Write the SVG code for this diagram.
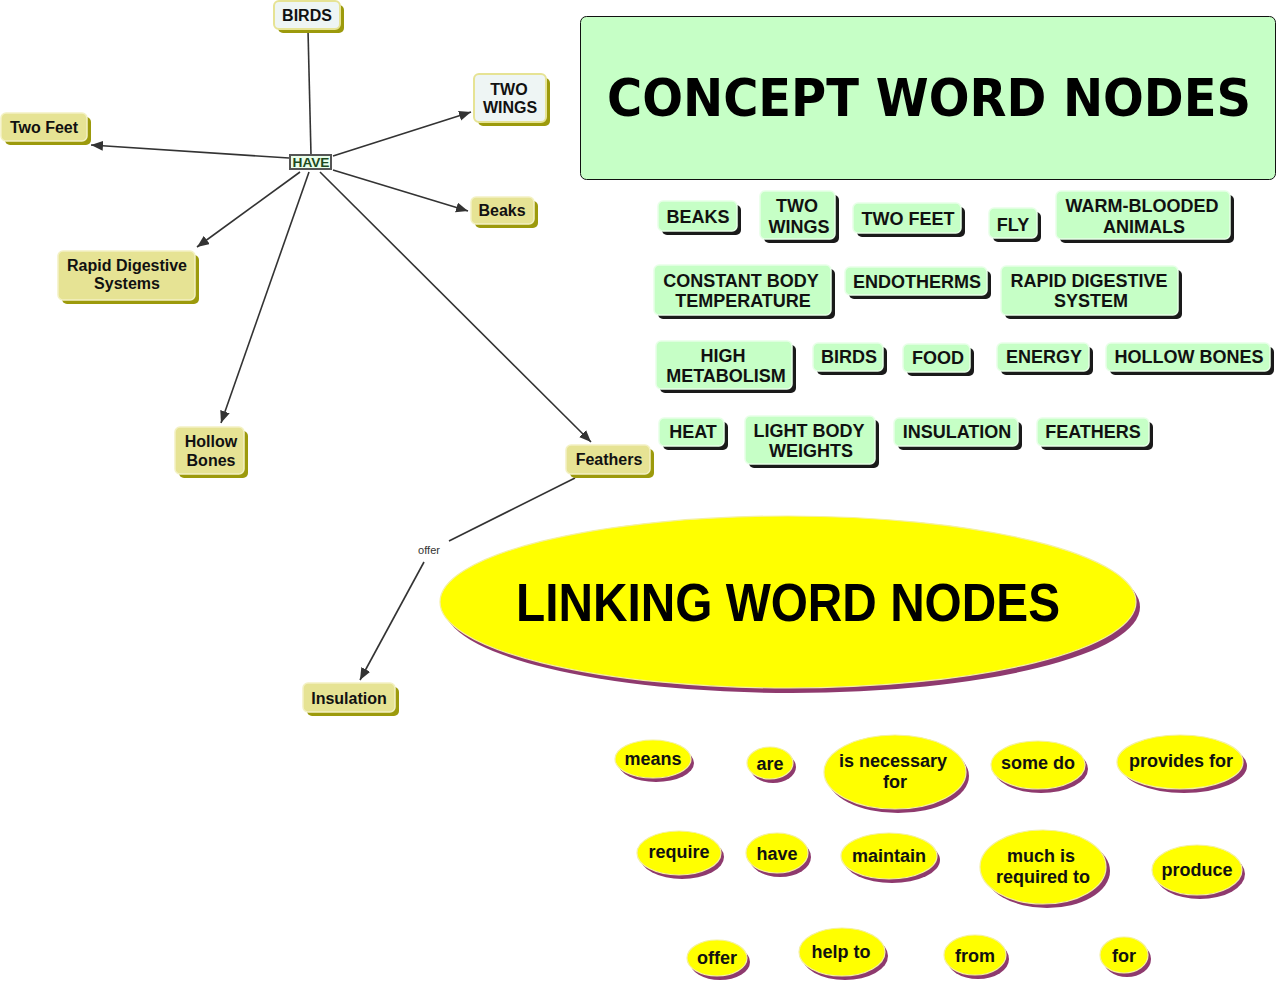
<svg xmlns="http://www.w3.org/2000/svg" width="1278" height="983" viewBox="0 0 1278 983">
<defs>
<marker id="arr" markerWidth="13" markerHeight="11" refX="12" refY="5" orient="auto" markerUnits="userSpaceOnUse">
<path d="M0,0 L12,5 L0,10 z" fill="#333"/>
</marker>
<style>
.kh{fill:#e6e394;stroke:#f3f1c4;stroke-width:1.5}
.kl{fill:#eef5f4;stroke:#e6e394;stroke-width:2}
.ks{fill:#9c9a0c}
.gr{fill:#c6ffc6;stroke:#e8ffe8;stroke-width:1.5}
.gs{fill:#1a1a1a}
.ye{fill:#ffff00;stroke:#f4f0a0;stroke-width:1.2}
.ys{fill:#8e3a6e}
.t{font-family:"Liberation Sans",Arial,sans-serif;font-weight:bold;fill:#111;text-anchor:middle}
.tl{font-size:16px}
.tg{font-size:18px}
.ty{font-size:18px}
.ln{stroke:#333;stroke-width:1.6;fill:none}
</style>
</defs>
<rect width="1278" height="983" fill="#fff"/>

<g id="connectors">
<line class="ln" x1="308" y1="30" x2="311" y2="155"/>
<line class="ln" x1="289" y1="158" x2="91" y2="145" marker-end="url(#arr)"/>
<line class="ln" x1="333" y1="156" x2="471" y2="112" marker-end="url(#arr)"/>
<line class="ln" x1="333" y1="170" x2="468" y2="211" marker-end="url(#arr)"/>
<line class="ln" x1="300" y1="172" x2="197" y2="247" marker-end="url(#arr)"/>
<line class="ln" x1="309" y1="172" x2="221" y2="423" marker-end="url(#arr)"/>
<line class="ln" x1="320" y1="172" x2="591" y2="442" marker-end="url(#arr)"/>
<line class="ln" x1="575" y1="478" x2="449" y2="541"/>
<line class="ln" x1="424" y1="562" x2="360" y2="680" marker-end="url(#arr)"/>
<text x="429" y="554" font-family="Liberation Sans, Arial, sans-serif" font-size="11" fill="#333" text-anchor="middle">offer</text>
</g>

<g id="n-birds"><rect class="ks" x="278" y="5" width="66" height="28" rx="5"/><rect class="kl" x="274" y="1" width="66" height="28" rx="5"/><text class="t tl" x="307" y="21">BIRDS</text></g>
<g id="n-twowings"><rect class="ks" x="478" y="78" width="72" height="48" rx="5"/><rect class="kl" x="474" y="74" width="72" height="48" rx="5"/><text class="t tl" x="509" y="95">TWO</text><text class="t tl" x="510" y="113">WINGS</text></g>
<g id="n-twofeet"><rect class="ks" x="5" y="117" width="86" height="28" rx="5"/><rect class="kh" x="1" y="113" width="86" height="28" rx="5"/><text class="t tl" x="44" y="133">Two Feet</text></g>
<g id="n-have"><rect x="290" y="155" width="41" height="14" fill="#eaffea" stroke="#555" stroke-width="2"/><text x="311" y="167" font-family="Liberation Sans, Arial, sans-serif" font-weight="bold" font-size="13" fill="#1d4a1d" text-anchor="middle" textLength="37" lengthAdjust="spacingAndGlyphs">HAVE</text></g>
<g id="n-beaks"><rect class="ks" x="475" y="201" width="63" height="27" rx="5"/><rect class="kh" x="471" y="197" width="63" height="27" rx="5"/><text class="t tl" x="502" y="216">Beaks</text></g>
<g id="n-rapid"><rect class="ks" x="62" y="255" width="137" height="49" rx="5"/><rect class="kh" x="58" y="251" width="137" height="49" rx="5"/><text class="t tl" x="127" y="271">Rapid Digestive</text><text class="t tl" x="127" y="289">Systems</text></g>
<g id="n-hollow"><rect class="ks" x="179" y="431" width="69" height="47" rx="5"/><rect class="kh" x="175" y="427" width="69" height="47" rx="5"/><text class="t tl" x="211" y="447">Hollow</text><text class="t tl" x="211" y="466">Bones</text></g>
<g id="n-feathers"><rect class="ks" x="570" y="449" width="84" height="29" rx="5"/><rect class="kh" x="566" y="445" width="84" height="29" rx="5"/><text class="t tl" x="609" y="465">Feathers</text></g>
<g id="n-insulation"><rect class="ks" x="307" y="687" width="92" height="29" rx="5"/><rect class="kh" x="303" y="683" width="92" height="29" rx="5"/><text class="t tl" x="349" y="704">Insulation</text></g>

<g id="concept-title"><rect x="580.5" y="16.5" width="695" height="163" rx="6" fill="#c6ffc6" stroke="#111" stroke-width="1"/><g transform="translate(929,116) scale(1,1.08)"><text x="0" y="0" font-family="DejaVu Sans, Verdana, sans-serif" font-weight="bold" font-size="48" fill="#000" text-anchor="middle">CONCEPT WORD NODES</text></g></g>

<g id="c-beaks"><rect class="gs" x="662" y="205" width="79" height="30" rx="5"/><rect class="gr" x="658" y="201" width="79" height="30" rx="5"/><text class="t tg" x="698" y="223">BEAKS</text></g>
<g id="c-twowings"><rect class="gs" x="764" y="195" width="75" height="48" rx="5"/><rect class="gr" x="760" y="191" width="75" height="48" rx="5"/><text class="t tg" x="797" y="212">TWO</text><text class="t tg" x="799" y="233">WINGS</text></g>
<g id="c-twofeet"><rect class="gs" x="857" y="207" width="108" height="30" rx="5"/><rect class="gr" x="853" y="203" width="108" height="30" rx="5"/><text class="t tg" x="908" y="225">TWO FEET</text></g>
<g id="c-fly"><rect class="gs" x="993" y="212" width="48" height="30" rx="5"/><rect class="gr" x="989" y="208" width="48" height="30" rx="5"/><text class="t tg" x="1013" y="231">FLY</text></g>
<g id="c-warm"><rect class="gs" x="1060" y="195" width="174" height="48" rx="5"/><rect class="gr" x="1056" y="191" width="174" height="48" rx="5"/><text class="t tg" x="1142" y="212">WARM-BLOODED</text><text class="t tg" x="1144" y="233">ANIMALS</text></g>
<g id="c-constant"><rect class="gs" x="658" y="269" width="177" height="50" rx="5"/><rect class="gr" x="654" y="265" width="177" height="50" rx="5"/><text class="t tg" x="741" y="287">CONSTANT BODY</text><text class="t tg" x="743" y="307">TEMPERATURE</text></g>
<g id="c-endotherms"><rect class="gs" x="849" y="271" width="142" height="28" rx="5"/><rect class="gr" x="845" y="267" width="142" height="28" rx="5"/><text class="t tg" x="917" y="288">ENDOTHERMS</text></g>
<g id="c-rapid"><rect class="gs" x="1005" y="270" width="177" height="49" rx="5"/><rect class="gr" x="1001" y="266" width="177" height="49" rx="5"/><text class="t tg" x="1089" y="287">RAPID DIGESTIVE</text><text class="t tg" x="1091" y="307">SYSTEM</text></g>
<g id="c-high"><rect class="gs" x="660" y="345" width="136" height="48" rx="5"/><rect class="gr" x="656" y="341" width="136" height="48" rx="5"/><text class="t tg" x="723" y="362">HIGH</text><text class="t tg" x="726" y="382">METABOLISM</text></g>
<g id="c-birds"><rect class="gs" x="817" y="347" width="70" height="28" rx="5"/><rect class="gr" x="813" y="343" width="70" height="28" rx="5"/><text class="t tg" x="849" y="363">BIRDS</text></g>
<g id="c-food"><rect class="gs" x="907" y="348" width="67" height="28" rx="5"/><rect class="gr" x="903" y="344" width="67" height="28" rx="5"/><text class="t tg" x="938" y="364">FOOD</text></g>
<g id="c-energy"><rect class="gs" x="1001" y="347" width="92" height="28" rx="5"/><rect class="gr" x="997" y="343" width="92" height="28" rx="5"/><text class="t tg" x="1044" y="363">ENERGY</text></g>
<g id="c-hollow"><rect class="gs" x="1110" y="347" width="164" height="28" rx="5"/><rect class="gr" x="1106" y="343" width="164" height="28" rx="5"/><text class="t tg" x="1189" y="363">HOLLOW BONES</text></g>
<g id="c-heat"><rect class="gs" x="663" y="422" width="65" height="28" rx="5"/><rect class="gr" x="659" y="418" width="65" height="28" rx="5"/><text class="t tg" x="693" y="438">HEAT</text></g>
<g id="c-light"><rect class="gs" x="749" y="420" width="130" height="48" rx="5"/><rect class="gr" x="745" y="416" width="130" height="48" rx="5"/><text class="t tg" x="809" y="437">LIGHT BODY</text><text class="t tg" x="811" y="457">WEIGHTS</text></g>
<g id="c-insulation"><rect class="gs" x="898" y="422" width="124" height="28" rx="5"/><rect class="gr" x="894" y="418" width="124" height="28" rx="5"/><text class="t tg" x="957" y="438">INSULATION</text></g>
<g id="c-feathers"><rect class="gs" x="1041" y="422" width="112" height="28" rx="5"/><rect class="gr" x="1037" y="418" width="112" height="28" rx="5"/><text class="t tg" x="1093" y="438">FEATHERS</text></g>

<g id="linking-title"><ellipse class="ys" cx="792" cy="607" rx="348" ry="86"/><ellipse class="ye" cx="788" cy="602" rx="348" ry="86"/><text x="788" y="621" font-family="Liberation Sans, Arial, sans-serif" font-weight="bold" font-size="53" fill="#000" text-anchor="middle" textLength="544" lengthAdjust="spacingAndGlyphs">LINKING WORD NODES</text></g>

<g id="l-means"><ellipse class="ys" cx="656" cy="763" rx="38" ry="19"/><ellipse class="ye" cx="653" cy="759" rx="38" ry="19"/><text class="t ty" x="653" y="765">means</text></g>
<g id="l-are"><ellipse class="ys" cx="773" cy="767" rx="23" ry="16"/><ellipse class="ye" cx="770" cy="763" rx="23" ry="16"/><text class="t ty" x="770" y="770">are</text></g>
<g id="l-necessary"><ellipse class="ys" cx="898" cy="776" rx="71" ry="37"/><ellipse class="ye" cx="895" cy="772" rx="71" ry="37"/><text class="t ty" x="893" y="767">is necessary</text><text class="t ty" x="895" y="788">for</text></g>
<g id="l-somedo"><ellipse class="ys" cx="1041" cy="769" rx="47" ry="24"/><ellipse class="ye" cx="1038" cy="765" rx="47" ry="24"/><text class="t ty" x="1038" y="769">some do</text></g>
<g id="l-provides"><ellipse class="ys" cx="1184" cy="766" rx="63" ry="27"/><ellipse class="ye" cx="1180" cy="762" rx="63" ry="27"/><text class="t ty" x="1181" y="767">provides for</text></g>
<g id="l-require"><ellipse class="ys" cx="682" cy="857" rx="42" ry="22"/><ellipse class="ye" cx="679" cy="853" rx="42" ry="22"/><text class="t ty" x="679" y="858">require</text></g>
<g id="l-have"><ellipse class="ys" cx="780" cy="857" rx="31" ry="20"/><ellipse class="ye" cx="777" cy="853" rx="31" ry="20"/><text class="t ty" x="777" y="860">have</text></g>
<g id="l-maintain"><ellipse class="ys" cx="892" cy="860" rx="48" ry="23"/><ellipse class="ye" cx="889" cy="856" rx="48" ry="23"/><text class="t ty" x="889" y="862">maintain</text></g>
<g id="l-much"><ellipse class="ys" cx="1047" cy="871" rx="63" ry="37"/><ellipse class="ye" cx="1043" cy="867" rx="63" ry="37"/><text class="t ty" x="1041" y="862">much is</text><text class="t ty" x="1043" y="883">required to</text></g>
<g id="l-produce"><ellipse class="ys" cx="1200" cy="874" rx="45" ry="25"/><ellipse class="ye" cx="1197" cy="870" rx="45" ry="25"/><text class="t ty" x="1197" y="876">produce</text></g>
<g id="l-offer"><ellipse class="ys" cx="720" cy="962" rx="30" ry="18"/><ellipse class="ye" cx="717" cy="958" rx="30" ry="18"/><text class="t ty" x="717" y="964">offer</text></g>
<g id="l-helpto"><ellipse class="ys" cx="845" cy="956" rx="43" ry="24"/><ellipse class="ye" cx="842" cy="952" rx="43" ry="24"/><text class="t ty" x="841" y="958">help to</text></g>
<g id="l-from"><ellipse class="ys" cx="978" cy="959" rx="31" ry="20"/><ellipse class="ye" cx="975" cy="955" rx="31" ry="20"/><text class="t ty" x="975" y="962">from</text></g>
<g id="l-for"><ellipse class="ys" cx="1127" cy="959" rx="24" ry="18"/><ellipse class="ye" cx="1124" cy="955" rx="24" ry="18"/><text class="t ty" x="1124" y="962">for</text></g>
</svg>
